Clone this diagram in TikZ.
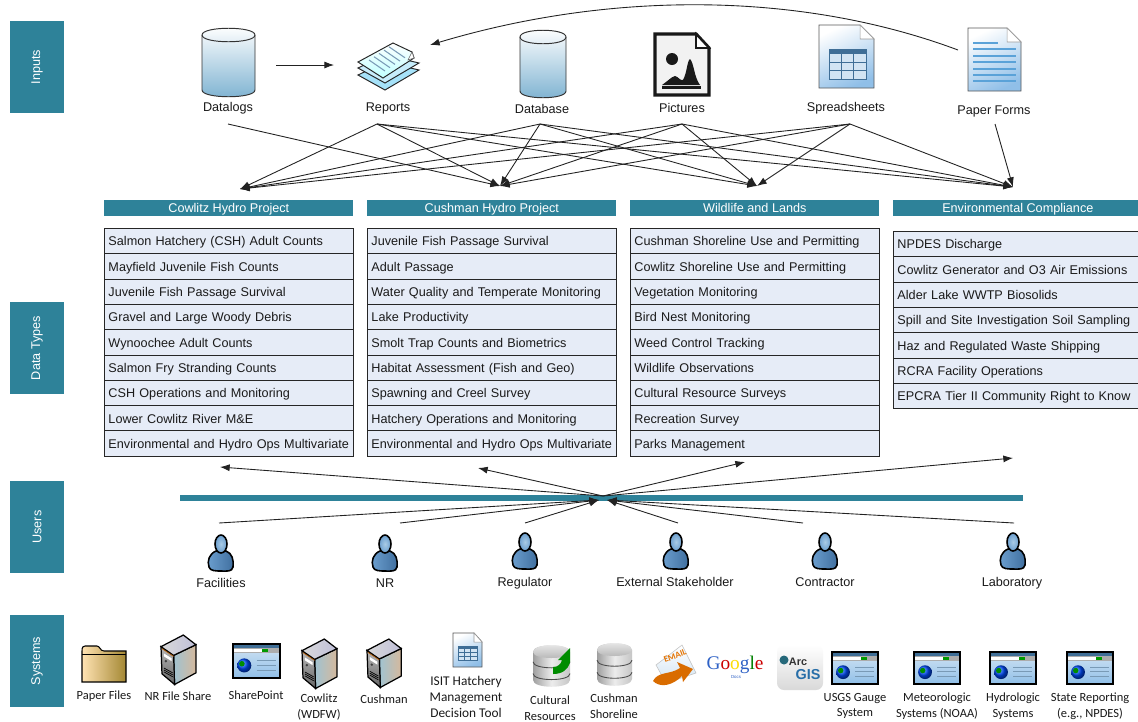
\documentclass[tikz,border=0pt]{standalone}
\usepackage{fontspec}
\setmainfont{Liberation Sans}
\newfontfamily\carl{Carlito}
\newfontfamily\timesf{Liberation Serif}
\usetikzlibrary{arrows.meta}
\definecolor{teal1}{HTML}{2E8299}
\definecolor{rowfill}{HTML}{E6ECF7}
\definecolor{linec}{HTML}{222222}
\definecolor{txt}{HTML}{1A1A1A}
\definecolor{cylb}{HTML}{7DB2D1}
\definecolor{docb}{HTML}{90BFE8}
\definecolor{persb}{HTML}{6C9FCF}
\definecolor{persd}{HTML}{3F6E9E}
\definecolor{perst}{HTML}{A9CBE5}
\definecolor{lineb}{HTML}{5AA2D8}
\definecolor{tabl}{HTML}{D2E4F3}
\definecolor{tabd}{HTML}{3F6E96}
\definecolor{gblue}{HTML}{2F62C6}
\newcommand{\fs}{\fontsize{7.2}{8.4}\selectfont}
\newcommand{\fc}{\carl\fontsize{7.1}{9}\selectfont}
\tikzset{
 lab/.style={fill=teal1,text=white,rotate=90,minimum width=1.84cm,minimum height=1.08cm,inner sep=0,font=\fs},
 head/.style={fill=teal1,text=white,minimum width=4.98cm,minimum height=0.32cm,inner sep=0,font=\fs,text height=6pt,text depth=0.9pt},
 row/.style={draw=black!85,line width=0.55pt,fill=rowfill,anchor=north west,minimum width=4.98cm,minimum height=0.506cm,text width=4.82cm,inner xsep=0.08cm,inner ysep=0,align=left,font=\fs,text=txt,text height=6.1pt,text depth=0.6pt},
 tt/.style={font=\fs,text=txt,inner sep=0,text height=6.5pt,text depth=0.5pt},
 st/.style={font=\fc,text=txt,inner sep=0,align=center},
 conn/.style={draw=linec,line width=0.5pt,-{Latex[length=5.5pt,width=4pt]}},
}
\newcommand{\cylicon}[4]{%
 \begin{scope}[shift={(#1,#2)}]
 \shade[top color=white,bottom color=cylb,draw=black!80,line width=0.55pt]
  (0,7) .. controls (0,-2) and (#3,-2) .. (#3,7) -- (#3,#4-7) .. controls (#3,#4+2) and (0,#4+2) .. (0,#4-7) -- cycle;
 \draw[black!80,line width=0.55pt] (0,7) .. controls (0,16) and (#3,16) .. (#3,7);
 \end{scope}}
\newcommand{\docshape}[4]{%
 \shade[top color=white,bottom color=docb,shading angle=25,draw=black!65,line width=0.5pt]
  (#1,#2) -- (#1+#3-14,#2) -- (#1+#3,#2+14) -- (#1+#3,#2+#4) -- (#1,#2+#4) -- cycle;
 \fill[white,draw=black!40,line width=0.3pt] (#1+#3-14,#2) -- (#1+#3,#2+14) -- (#1+#3-14,#2+14) -- cycle;}
\newcommand{\tableicon}[4]{%
 \begin{scope}[shift={(#1,#2)}]
 \fill[tabl] (0,0) rectangle (#3,#4);
 \fill[tabd] (0,0) rectangle (#3,0.16*#4);
 \draw[tabd,line width=0.5pt] (0,0) rectangle (#3,#4);
 \foreach \u in {0.33,0.66} \draw[tabd,line width=0.4pt] (\u*#3,0) -- (\u*#3,#4);
 \foreach \u in {0.16,0.44,0.72} \draw[tabd,line width=0.4pt] (0,\u*#4) -- (#3,\u*#4);
 \end{scope}}
\newcommand{\person}[2]{%
 \begin{scope}[shift={(#1,#2)}]
 \shade[left color=persb,right color=persd,draw=black,line width=0.9pt]
  (-5,16) .. controls (-12,19) and (-14,26) .. (-12,32) .. controls (-11,36) and (-5,36) .. (0,36) .. controls (6,36) and (11,37) .. (12,32) .. controls (13,25) and (11,18) .. (5,16) -- cycle;
 \shade[inner color=perst,outer color=persb,draw=black,line width=0.9pt] (0,9) ellipse (6 and 9);
 \end{scope}}
\newcommand{\server}[3]{%
 \begin{scope}[shift={(#1,#2)},scale=#3]
 \shade[left color=blue!30!cyan!35!gray!55,right color=orange!40!gray!55,draw=black,line width=0.7pt] (13,21) -- (36,10) -- (36,39) -- (14,51) -- cycle;
 \shade[top color=gray!55,bottom color=gray!80!black,draw=black,line width=0.7pt] (0,12) -- (13,21) -- (14,51) -- (1,40) -- cycle;
 \shade[left color=gray!30,right color=blue!25!gray!40,draw=black,line width=0.7pt] (0,12) -- (23,0) -- (36,10) -- (13,21) -- cycle;
 \fill[white] (3,19) -- (11,24) -- (11,27) -- (3,22) -- cycle;
 \fill[black!75] (5,27) circle (1.4);
 \foreach \u in {0,2,4} \draw[black,line width=0.4pt] (3,34+\u) -- (12,39+\u);
 \draw[orange!70!black,line width=0.4pt] (1,14) -- (13,22);
 \end{scope}}
\newcommand{\browser}[4]{%
 \begin{scope}[shift={(#1,#2)}]
 \shade[top color=tabl,bottom color=docb] (0,0) rectangle (#3,#4);
 \fill[tabd] (0,0) rectangle (#3,4);
 \fill[gray!65] (0,4) rectangle (#3,9);
 \fill[white] (1,5.2) rectangle (0.62*#3,8);
 \fill[green!60!black] (0.62*#3,5.2) rectangle (0.75*#3,8);
 \draw[black,line width=0.8pt] (0,0) rectangle (#3,#4);
 \shade[ball color=blue!70!cyan] (0.24*#3,0.63*#4) circle (0.15*#3);
 \fill[green!55!black] (0.19*#3,0.58*#4) circle (0.06*#3);
 \foreach \u in {0.47,0.62,0.77} \draw[tabd!70,line width=0.5pt] (0.5*#3,\u*#4) -- (0.92*#3,\u*#4);
 \end{scope}}
\newcommand{\dbstack}[4]{%
 \begin{scope}[shift={(#1,#2)}]
 \shade[left color=gray!75,right color=gray!45,middle color=gray!15]
  (0,7) .. controls (0,-2) and (#3,-2) .. (#3,7) -- (#3,#4-7) .. controls (#3,#4+2) and (0,#4+2) .. (0,#4-7) -- cycle;
 \shade[top color=gray!15,bottom color=gray!60] (0,7) .. controls (0,-2) and (#3,-2) .. (#3,7) .. controls (#3,15) and (0,15) .. (0,7);
 \foreach \u in {0.4,0.68} \draw[gray!60!black,line width=0.5pt] (0,\u*#4) .. controls (0,\u*#4+8) and (#3,\u*#4+8) .. (#3,\u*#4);
 \end{scope}}
\begin{document}
\begin{tikzpicture}[x=0.02cm,y=-0.02cm]
\useasboundingbox (0,0) rectangle (1138,721);
\fill[white] (0,0) rectangle (1138,721);
\node[lab] (inputs) at (37,67) {Inputs};
\node[lab] (datatypes) at (37,348) {Data Types};
\node[lab] (users) at (37,527) {Users};
\node[lab] (systems) at (37,661) {Systems};
\cylicon{202}{28}{53}{69}
\cylicon{520}{30}{46}{68}
% reports
\fill[cyan!35!white,draw=black!85,line width=0.55pt] (358,75) -- (385,62) -- (419,70) -- (385,90) -- cycle;
\fill[cyan!22!white,draw=black!85,line width=0.55pt] (358,68) -- (385,55) -- (419,63) -- (385,83) -- cycle;
\shade[top color=white,bottom color=cyan!25!white,draw=black!85,line width=0.55pt] (358,62) -- (393,43) -- (412,52) -- (414,58) -- (383,78) -- cycle;
\fill[white,draw=black!60,line width=0.3pt] (412,52) -- (408,60) -- (414,58) -- cycle;
\foreach \u in {0,1,2,3,4} \draw[tabd!70,line width=0.6pt] (369+\u*5,60-\u*3.3) -- (385+\u*5,71-\u*3.3);
% pictures
\begin{scope}[shift={(654,33)}]
 \fill[white!95!black,draw=black!90,line width=1.9pt] (1,1) -- (42,1) -- (55,15) -- (55,62) -- (1,62) -- cycle;
 \fill[white,draw=black!90,line width=1.1pt] (42,1) -- (42,15) -- (55,15) -- cycle;
 \fill[black!90] (18,26) circle (6);
 \fill[black!90] (8,52) .. controls (14,48) and (17,44) .. (21,43) .. controls (25,44) and (26,48) .. (29,47) .. controls (33,40) and (33,28) .. (36,26) .. controls (40,30) and (40,44) .. (46,52) -- cycle;
 \fill[black!90] (8,53) rectangle (47,55.5);
\end{scope}
\docshape{819}{25}{55}{63}
\tableicon{829}{49}{37}{30}
\docshape{968}{28}{53}{63}
\draw[lineb,line width=1pt] (973,43) -- (998,43);
\foreach \u in {49,56,62,69,75,81} \draw[lineb,line width=0.6pt] (973,\u) -- (1016,\u);
\node[tt] (tDatalogs) at (228,106) {Datalogs};
\node[tt] (tReports) at (388,106) {Reports};
\node[tt] (tDatabase) at (542,108) {Database};
\node[tt] (tPictures) at (682,107) {Pictures};
\node[tt] (tSpread) at (846,106) {Spreadsheets};
\node[tt] (tForms) at (994,109) {Paper Forms};
\coordinate (sA) at (228,124); \coordinate (sB) at (377,124); \coordinate (sC) at (540,124);
\coordinate (sD) at (682,124); \coordinate (sE) at (850,124); \coordinate (sF) at (995,124);
\coordinate (tA) at (240,189); \coordinate (tB) at (500,186); \coordinate (tC) at (757,186); \coordinate (tD) at (1013,187);
\coordinate (dlE) at (276,65); \coordinate (rpW) at (334,65);
\coordinate (pfW) at (958,50); \coordinate (rpE) at (430,45);
\draw[conn] (dlE) -- (rpW);
\draw[conn] (pfW) .. controls (800,-9) and (610,-9) .. (rpE);
\draw[conn] (sA) -- (tB);
\foreach \s in {sB,sC,sD,sE} \foreach \t in {tA,tB,tC,tD} \draw[conn] (\s) -- (\t);
\draw[conn] (sF) -- (tD);
\node[head,anchor=north west] (h1) at (104,200) {Cowlitz Hydro Project};
\node[head,anchor=north west] (h2) at (367,200) {Cushman Hydro Project};
\node[head,anchor=north west] (h3) at (630,200) {Wildlife and Lands};
\node[head,anchor=north west] (h4) at (893,200) {Environmental Compliance};
\foreach \t [count=\i from 0] in {Salmon Hatchery (CSH) Adult Counts,Mayfield Juvenile Fish Counts,Juvenile Fish Passage Survival,Gravel and Large Woody Debris,Wynoochee Adult Counts,Salmon Fry Stranding Counts,CSH Operations and Monitoring,Lower Cowlitz River M\&E,Environmental and Hydro Ops Multivariate}
 \node[row] (a\i) at (104,228+25.3*\i) {\t};
\foreach \t [count=\i from 0] in {Juvenile Fish Passage Survival,Adult Passage,Water Quality and Temperate Monitoring,Lake Productivity,Smolt Trap Counts and Biometrics,Habitat Assessment (Fish and Geo),Spawning and Creel Survey,Hatchery Operations and Monitoring,Environmental and Hydro Ops Multivariate}
 \node[row] (b\i) at (367,228+25.3*\i) {\t};
\foreach \t [count=\i from 0] in {Cushman Shoreline Use and Permitting,Cowlitz Shoreline Use and Permitting,Vegetation Monitoring,Bird Nest Monitoring,Weed Control Tracking,Wildlife Observations,Cultural Resource Surveys,Recreation Survey,Parks Management}
 \node[row] (c\i) at (630,228+25.3*\i) {\t};
\foreach \t [count=\i from 0] in {NPDES Discharge,Cowlitz Generator and O3 Air Emissions,Alder Lake WWTP Biosolids,Spill and Site Investigation Soil Sampling,Haz and Regulated Waste Shipping,RCRA Facility Operations,EPCRA Tier II Community Right to Know}
 \node[row] (d\i) at (893,231+25.3*\i) {\t};
\node[fill=teal1,minimum width=16.86cm,minimum height=0.12cm,inner sep=0] (bar) at (601.5,498) {};
\coordinate (up) at (603,496);
\coordinate (dnL) at (599,500); \coordinate (dnR) at (607,500);
\coordinate (u1) at (220,467); \coordinate (u2) at (478,468); \coordinate (u3) at (745,462); \coordinate (u4) at (1013,458);
\foreach \t in {u1,u2,u3,u4} \draw[conn] (up) -- (\t);
\coordinate (p1) at (219,523); \coordinate (p2) at (400,523); \coordinate (p3) at (525,523);
\coordinate (p4) at (678,523); \coordinate (p5) at (803,523); \coordinate (p6) at (1014,523);
\foreach \t in {p1,p2,p3} \draw[conn] (\t) -- (dnL);
\foreach \t in {p4,p5,p6} \draw[conn] (\t) -- (dnR);
\person{221}{535}\person{385}{535}\person{525}{533}\person{676}{533}\person{825}{533}\person{1013}{533}
\node[tt] (uFac) at (221,582) {Facilities};
\node[tt] (uNR) at (385,582) {NR};
\node[tt] (uReg) at (525,581) {Regulator};
\node[tt] (uExt) at (675,581) {External Stakeholder};
\node[tt] (uCon) at (825,581) {Contractor};
\node[tt] (uLab) at (1012,581) {Laboratory};
% systems icons
\begin{scope}[shift={(82,645)}]
 \shade[left color=yellow!25!orange!30!white,right color=yellow!50!orange!55!black!80,draw=black,line width=0.6pt]
  (0,6) .. controls (0,2) and (1,1) .. (3,1) -- (15,1) .. controls (18,1) and (18,6) .. (22,6) -- (44,6) -- (44,37) -- (0,37) -- cycle;
 \draw[black,line width=0.4pt] (0,9) -- (44,9);
\end{scope}
\server{161}{635}{0.97}
\browser{233}{644}{47}{34}
\server{302}{639}{0.97}
\server{367}{639}{0.95}
\begin{scope}[shift={(453,633)}]
\shade[top color=white,bottom color=docb,shading angle=25,draw=black!65,line width=0.5pt] (0,0) -- (21,0) -- (29,9) -- (29,34) -- (0,34) -- cycle;
\fill[white,draw=black!40,line width=0.3pt] (21,0) -- (29,9) -- (21,9) -- cycle;
\end{scope}
\tableicon{458}{646}{19}{14}
\dbstack{533}{645}{37}{42}
\fill[green!55!black] (553,674) -- (553,667) .. controls (558,667) and (561,664) .. (562,660) -- (558,660) -- (570,648) -- (570,662) .. controls (568,670) and (562,674) .. (553,674) -- cycle;
\dbstack{597}{643}{35}{43}
\begin{scope}[shift={(652,643)}]
 \shade[top color=white,bottom color=tabl,draw=gray!50,line width=0.3pt] (4,22) -- (30,2) -- (44,30) -- (14,40) -- cycle;
 \node[rotate=20,text=orange!90!black,font=\carl\bfseries\fontsize{5}{6}\selectfont,inner sep=0] (emailT) at (23,13) {EMAIL};
 \fill[orange!85!black] (1,38) .. controls (6,28) and (18,32) .. (28,25) -- (25,19) -- (41,26) -- (31,39) -- (30,33) .. controls (20,43) and (8,45) .. (1,38) -- cycle;
\end{scope}
\node[inner sep=0,font=\timesf\fontsize{11}{11}\selectfont] (google) at (735,665) {\textcolor{gblue}{G}\textcolor{red!80!black}{o}\textcolor{yellow!80!orange}{o}\textcolor{gblue}{g}\textcolor{green!50!black}{l}\textcolor{red!80!black}{e}};
\node[inner sep=0,text=gblue,font=\fontsize{2.5}{3}\selectfont] (docs) at (736,677) {Docs};
\shade[top color=white,bottom color=gray!30,rounded corners=4pt] (777,645) rectangle (823,690);
\fill[teal1!80!black] (784,660) circle (4.5);
\node[inner sep=0,font=\bfseries\fontsize{6.2}{6.5}\selectfont,text=black!80] (arc) at (798,662) {Arc};
\node[inner sep=0,font=\bfseries\fontsize{8.2}{9}\selectfont,text=teal1!85!blue] (gis) at (808,675) {GIS};
\browser{832}{652}{46}{32}
\browser{914}{652}{46}{32}
\browser{990}{652}{46}{32}
\browser{1067}{652}{46}{32}
\node[st] (sPaper) at (104,696) {Paper Files};
\node[st] (sNR) at (178,696) {NR File Share};
\node[st] (sSP) at (256,695) {SharePoint};
\node[st] (sCow) at (319,707) {Cowlitz\\(WDFW)};
\node[st] (sCus) at (384,699) {Cushman};
\node[st,font=\carl\fontsize{7.6}{8.9}\selectfont] (sISIT) at (466,697) {ISIT Hatchery\\Management\\Decision Tool};
\node[st] (sCul) at (550,708) {Cultural\\Resources};
\node[st] (sShore) at (614,706) {Cushman\\Shoreline};
\node[st] (sUSGS) at (855,706) {USGS Gauge\\System};
\node[st] (sMet) at (937,706) {Meteorologic\\Systems (NOAA)};
\node[st] (sHyd) at (1013,706) {Hydrologic\\Systems};
\node[st] (sState) at (1090,706) {State Reporting\\(e.g., NPDES)};
\end{tikzpicture}
\end{document}
